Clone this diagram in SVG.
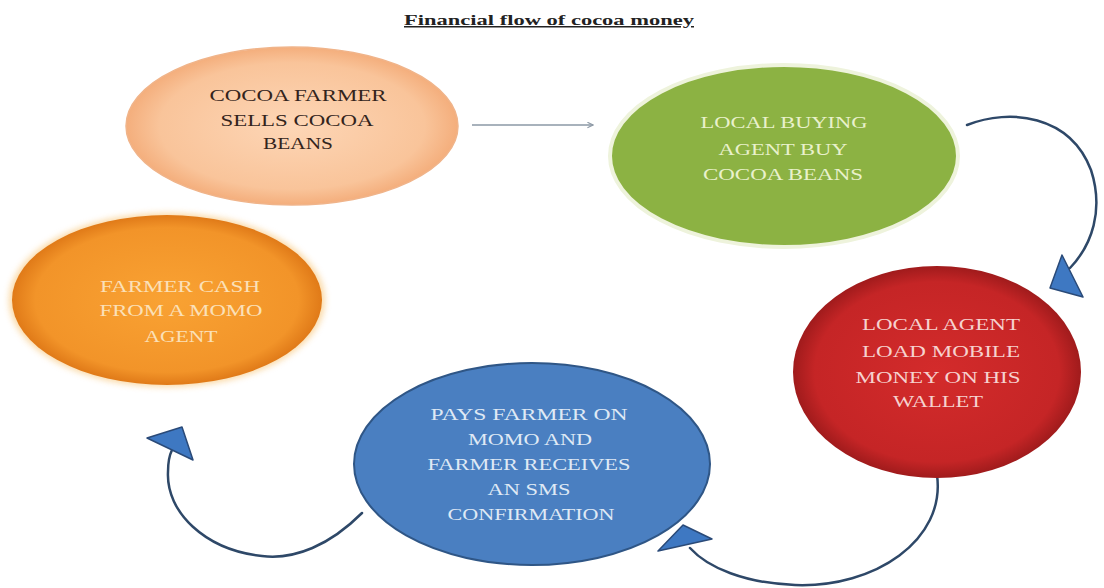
<svg xmlns="http://www.w3.org/2000/svg" width="1104" height="588" viewBox="0 0 1104 588">
<style>
.t{font-family:"Liberation Serif","Times New Roman",serif;font-size:17px;text-anchor:middle}
.title{font-family:"Liberation Serif","Times New Roman",serif;font-size:15px;font-weight:bold;fill:#222;text-decoration:underline}
.curve{fill:none;stroke:#2e4868;stroke-width:2.5;stroke-linecap:round}
.head{fill:#3e78c2;stroke:#2a4a78;stroke-width:1.5;stroke-linejoin:round}
</style>
<defs>
<radialGradient id="gPeach" cx="50%" cy="50%" r="50%"><stop offset="0" stop-color="#fdd6b6"/><stop offset="0.8" stop-color="#f9c49a"/><stop offset="1" stop-color="#f4ae7c"/></radialGradient>
<radialGradient id="gOrange" cx="50%" cy="50%" r="50%"><stop offset="0" stop-color="#f9a233"/><stop offset="0.85" stop-color="#f29429"/><stop offset="1" stop-color="#e07a18"/></radialGradient>
<radialGradient id="gRed" cx="50%" cy="50%" r="50%"><stop offset="0" stop-color="#d32b2b"/><stop offset="0.85" stop-color="#c52526"/><stop offset="1" stop-color="#a01b1c"/></radialGradient>
<filter id="blur" x="-10%" y="-10%" width="120%" height="120%"><feGaussianBlur stdDeviation="3"/></filter>
<marker id="open" viewBox="0 0 10 10" refX="9" refY="5" markerWidth="7" markerHeight="7" orient="auto" markerUnits="userSpaceOnUse"><path d="M1,1 L9,5 L1,9" fill="none" stroke="#8e9aa6" stroke-width="1.6"/></marker>
</defs>
<rect width="1104" height="588" fill="#ffffff"/>
<text class="title" x="404" y="25" textLength="290" lengthAdjust="spacingAndGlyphs">Financial flow of cocoa money</text>

<g id="connectors">
<line x1="472" y1="125" x2="593" y2="125" stroke="#a8b2bc" stroke-width="2.2" marker-end="url(#open)"/>
<path class="curve" d="M967,125 C1010,108 1070,115 1091,170 C1104,210 1092,245 1070,268"/>
<polygon class="head" points="1062,255 1050,288 1083,297"/>
<path class="curve" d="M937,475 C946,540 875,588 795,585 C745,583 708,568 690,548"/>
<polygon class="head" points="683,525 712,539 658,551"/>
<path class="curve" d="M362,513 C330,545 295,560 262,556 C205,550 166,512 168,472 C168,462 170,454 172,450"/>
<polygon class="head" points="147,438 182,427 193,460"/>
</g>

<g id="n1">
<ellipse cx="292" cy="126" rx="166" ry="79" fill="url(#gPeach)" stroke="#f0b48a" stroke-width="1.5"/>
<g class="t" fill="#33241c">
<text x="298" y="101" textLength="177" lengthAdjust="spacingAndGlyphs">COCOA FARMER</text>
<text x="297" y="126" textLength="153" lengthAdjust="spacingAndGlyphs">SELLS COCOA</text>
<text x="298" y="149" textLength="70" lengthAdjust="spacingAndGlyphs">BEANS</text>
</g>
</g>

<g id="n2">
<ellipse cx="784" cy="156" rx="174" ry="91" fill="#8cb243" stroke="#eef3dc" stroke-width="4"/>
<g class="t" fill="#e9f1cc">
<text x="784" y="128" textLength="167" lengthAdjust="spacingAndGlyphs">LOCAL BUYING</text>
<text x="783" y="155" textLength="129" lengthAdjust="spacingAndGlyphs">AGENT BUY</text>
<text x="783" y="180" textLength="160" lengthAdjust="spacingAndGlyphs">COCOA BEANS</text>
</g>
</g>

<g id="n3">
<ellipse cx="167" cy="300" rx="158" ry="87" fill="#f7c06a" opacity="0.6" filter="url(#blur)"/>
<ellipse cx="167" cy="300" rx="155" ry="85" fill="url(#gOrange)"/>
<g class="t" fill="#fbe0b8">
<text x="180" y="292" textLength="160" lengthAdjust="spacingAndGlyphs">FARMER CASH</text>
<text x="181" y="316" textLength="163" lengthAdjust="spacingAndGlyphs">FROM A MOMO</text>
<text x="181" y="342" textLength="73" lengthAdjust="spacingAndGlyphs">AGENT</text>
</g>
</g>

<g id="n4">
<ellipse cx="937" cy="372" rx="144" ry="106" fill="url(#gRed)"/>
<g class="t" fill="#f6d2cf">
<text x="941" y="330" textLength="158" lengthAdjust="spacingAndGlyphs">LOCAL AGENT</text>
<text x="941" y="357" textLength="158" lengthAdjust="spacingAndGlyphs">LOAD MOBILE</text>
<text x="938" y="383" textLength="165" lengthAdjust="spacingAndGlyphs">MONEY ON HIS</text>
<text x="938" y="407" textLength="90" lengthAdjust="spacingAndGlyphs">WALLET</text>
</g>
</g>

<g id="n5">
<ellipse cx="532" cy="464" rx="178" ry="101" fill="#4a7fc1" stroke="#2f5686" stroke-width="2"/>
<g class="t" fill="#dfe9f5">
<text x="529" y="420" textLength="197" lengthAdjust="spacingAndGlyphs">PAYS FARMER ON</text>
<text x="530" y="445" textLength="124" lengthAdjust="spacingAndGlyphs">MOMO AND</text>
<text x="529" y="470" textLength="203" lengthAdjust="spacingAndGlyphs">FARMER RECEIVES</text>
<text x="529" y="495" textLength="83" lengthAdjust="spacingAndGlyphs">AN SMS</text>
<text x="531" y="520" textLength="167" lengthAdjust="spacingAndGlyphs">CONFIRMATION</text>
</g>
</g>
</svg>
